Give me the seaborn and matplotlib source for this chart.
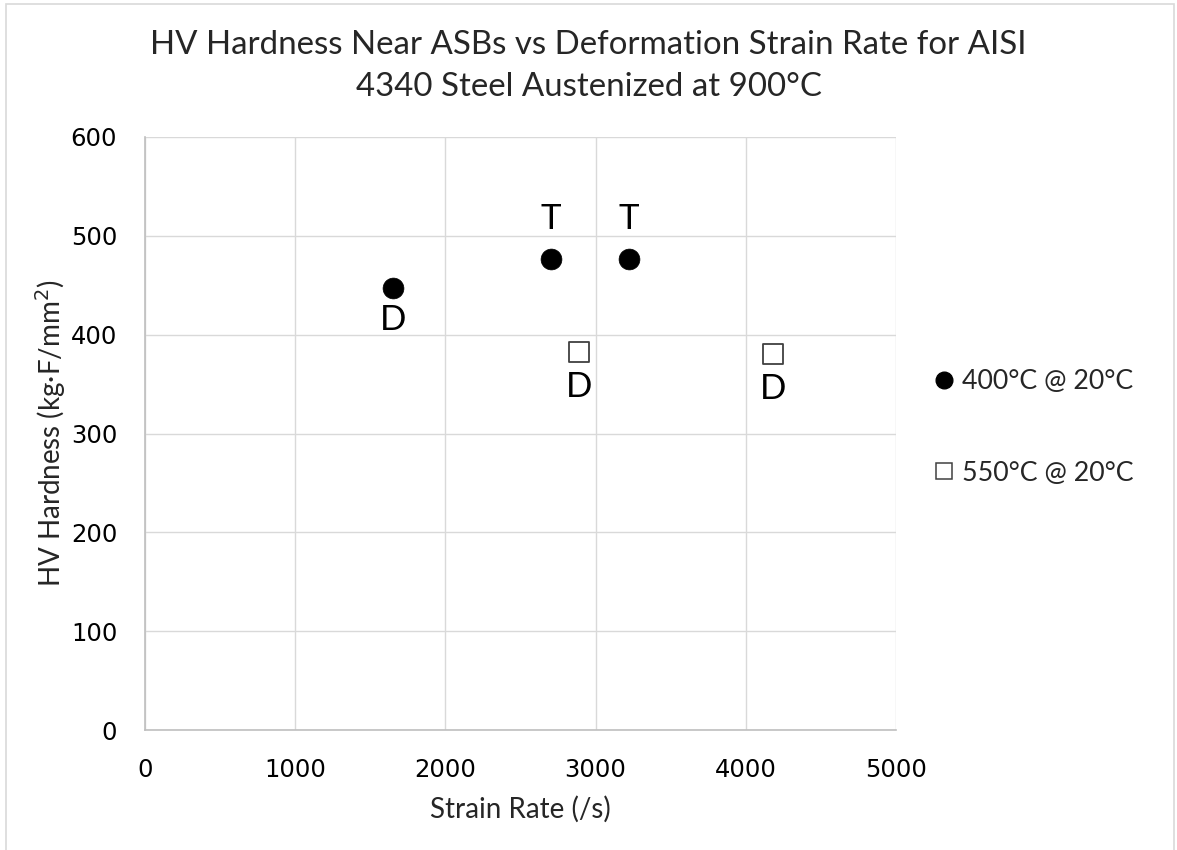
import matplotlib
matplotlib.use("Agg")
import matplotlib.pyplot as plt
from matplotlib.lines import Line2D
from matplotlib.patches import Rectangle
import seaborn as sns
import pandas as pd

# Hardness measurements near adiabatic shear bands
series_400 = "400°C @ 20°C"
series_550 = "550°C @ 20°C"

rate_400 = [1650, 2700, 3220]
hv_400 = [447, 477, 477]
tag_400 = ["D", "T", "T"]

rate_550 = [2890, 4180]
hv_550 = [382, 380]
tag_550 = ["D", "D"]

x_ticks = [0, 1000, 2000, 3000, 4000, 5000]
y_ticks = [0, 100, 200, 300, 400, 500, 600]

title_lines = ["HV Hardness Near ASBs vs Deformation Strain Rate for AISI",
               "4340 Steel Austenized at 900°C"]
x_label = "Strain Rate (/s)"
y_label = "HV Hardness (kg·F/mm$^2$)"

sns.set_theme(style="white")
plt.rcParams["font.family"] = ["DejaVu Sans"]
label_font = ["Lato", "DejaVu Sans"]

df400 = pd.DataFrame({"rate": rate_400, "hv": hv_400, "tag": tag_400})
df550 = pd.DataFrame({"rate": rate_550, "hv": hv_550, "tag": tag_550})

W, H = 1177, 850
fig = plt.figure(figsize=(W / 100, H / 100), dpi=100)
fig.patch.set_facecolor("white")

# chart-area outline
fig.add_artist(Rectangle((6 / W, -0.01), (1174 - 6) / W, 1 - 4 / H + 0.01,
                         transform=fig.transFigure, fill=False,
                         edgecolor="#d9d9d9", linewidth=1.2))

left, right, top, bottom = 145, 896, 137, 730
ax = fig.add_axes([left / W, 1 - bottom / H, (right - left) / W, (bottom - top) / H])

sns.scatterplot(data=df400, x="rate", y="hv", ax=ax, marker="o", s=225,
                color="black", edgecolor="black", linewidth=0.5, zorder=3)
sns.scatterplot(data=df550, x="rate", y="hv", ax=ax, marker="s", s=200,
                color="white", edgecolor="#404040", linewidth=1.3, zorder=3)

# point tags: T above, D below
for df, below_off in ((df400, -30), (df550, -32)):
    for r, v, t in zip(df["rate"], df["hv"], df["tag"]):
        dy = 21 if t == "T" else below_off
        ax.annotate(t, (r, v), xytext=(0, dy), textcoords="offset points",
                    ha="center", va="baseline", fontsize=25,
                    family=label_font, color="black")

ax.set_xlim(0, 5000)
ax.set_ylim(0, 600)
ax.set_xticks(x_ticks)
ax.set_yticks(y_ticks)
ax.tick_params(axis="both", length=0, labelsize=17.5, pad=20, colors="black")
ax.grid(True, color="#d9d9d9", linewidth=1.0)
ax.set_axisbelow(True)
for side in ("top", "right"):
    ax.spines[side].set_visible(False)
for side in ("left", "bottom"):
    ax.spines[side].set_color("#bfbfbf")
    ax.spines[side].set_linewidth(1.2)

ax.set_xlabel(x_label, fontsize=20, family=label_font, labelpad=10)
ax.set_ylabel(y_label, fontsize=20, family=label_font, labelpad=2)

# two-line title
for line, y_px in zip(title_lines, (45, 87)):
    fig.text(0.5, 1 - y_px / H, line, ha="center", va="center", fontsize=23.8,
             family=label_font)

handles = [
    Line2D([], [], marker="o", linestyle="none", markersize=12,
           markerfacecolor="black", markeredgecolor="black"),
    Line2D([], [], marker="s", linestyle="none", markersize=11.5,
           markerfacecolor="white", markeredgecolor="#404040", markeredgewidth=1.1),
]
leg = ax.legend(handles, [series_400, series_550], loc="center left",
                bbox_to_anchor=(1.035, 0.51), frameon=False, labelspacing=2.48,
                handlelength=0.8, handletextpad=0.3, borderaxespad=0,
                prop={"family": label_font, "size": 19.3})

fig.savefig("out.png", dpi=100, facecolor="white")
